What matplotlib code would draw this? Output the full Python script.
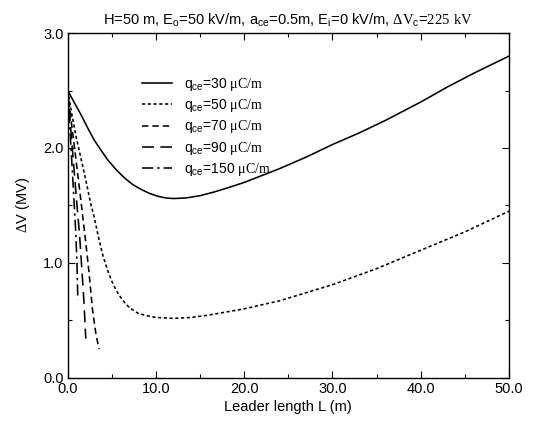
import numpy as np
import matplotlib
matplotlib.use('Agg')
import matplotlib.pyplot as plt

plt.rcParams['font.family'] = ['Liberation Sans', 'DejaVu Sans']
plt.rcParams['mathtext.fontset'] = 'custom'
plt.rcParams['mathtext.rm'] = 'Liberation Sans'
plt.rcParams['mathtext.tt'] = 'Liberation Serif'

# valores
q30_L = [0, 0.5, 1, 1.5, 2, 2.5, 3, 3.6, 4.5, 5.5, 6.5, 7.4, 8.3, 9.25, 10.2, 11.1, 12, 13.4, 15, 16.5,
         18, 20, 22, 24, 27, 30, 33, 36, 40, 43, 46, 50]
q30_V = [2.50, 2.43, 2.36, 2.29, 2.215, 2.14, 2.07, 2.00, 1.90, 1.81, 1.735, 1.68, 1.64, 1.605, 1.58, 1.565,
         1.56, 1.565, 1.585, 1.615, 1.65, 1.70, 1.76, 1.82, 1.92, 2.03, 2.13, 2.24, 2.40, 2.53, 2.65, 2.80]

q50_L = [0, 0.5, 1, 1.5, 2, 2.65, 3, 3.5, 4, 4.5, 5, 5.5, 6, 6.5, 7, 8, 9, 10, 12, 14, 16, 20, 24, 27,
         30, 35, 40, 45, 50]
q50_V = [2.50, 2.28, 2.08, 1.91, 1.74, 1.50, 1.40, 1.22, 1.06, 0.94, 0.84, 0.76, 0.70, 0.65, 0.61, 0.56,
         0.54, 0.525, 0.517, 0.525, 0.546, 0.60, 0.67, 0.74, 0.81, 0.95, 1.11, 1.27, 1.45]

q70_L = [0, 0.5, 1.0, 1.5, 2.0, 2.4, 2.8, 3.2, 3.55]
q70_V = [2.5, 2.17, 1.86, 1.54, 1.21, 0.93, 0.60, 0.38, 0.25]

q90_L = [0, 0.5, 1.0, 1.35, 1.6, 1.85, 2.05]
q90_V = [2.5, 2.02, 1.55, 1.24, 0.95, 0.65, 0.34]

q150_L = [0, 0.3, 0.6, 0.92, 1.05, 1.15]
q150_V = [2.5, 2.1, 1.7, 1.26, 1.0, 0.68]

cargas = ['30', '50', '70', '90', '150']
x_ticks = [0, 10, 20, 30, 40, 50]
y_ticks = [0, 1, 2, 3]

series = [(q30_L, q30_V), (q50_L, q50_V), (q70_L, q70_V), (q90_L, q90_V), (q150_L, q150_V)]
estilos = ['-', (0, (2, 1.6)), (0, (4, 2.5)), (0, (7.5, 4)), (0, (7, 2.5, 1.5, 2.5))]

fig = plt.figure(figsize=(5.33, 4.24), dpi=100)
ax = fig.add_axes([0.127, 0.109, 0.828, 0.813])

for (L, V), est, q in zip(series, estilos, cargas):
    ax.plot(L, V, color='black', lw=1.15, linestyle=est,
            label=r'q$_{\rm ce}$=' + q + r' $\mathtt{\mu C/m}$')

ax.set_xlim(0, 50)
ax.set_ylim(0, 3)
ax.set_xticks(x_ticks)
ax.set_xticklabels([f'{v:.1f}' for v in x_ticks])
ax.set_yticks(y_ticks)
ax.set_yticklabels([f'{v:.1f}' for v in y_ticks])
ax.set_xticks(np.arange(5, 50, 10), minor=True)
ax.set_yticks([0.5, 1.5, 2.5], minor=True)
ax.tick_params(which='both', direction='in', top=True, right=True, labelsize=10.5, width=0.8)
ax.tick_params(which='major', length=5, pad=3)
ax.tick_params(which='minor', length=3)
for s in ax.spines.values():
    s.set_linewidth(1.0)

ax.set_xlabel('Leader length L (m)', fontsize=10.5, labelpad=3)
ax.set_ylabel(r'$\mathtt{\Delta}$V (MV)', fontsize=10.5, labelpad=8)
ax.set_title(r'H=50 m, E$_{\rm o}$=50 kV/m, a$_{\rm ce}$=0.5m, E$_{\rm i}$=0 kV/m, '
             r'$\mathtt{\Delta V}_{\rm c}$=$\mathtt{225\ kV}$', fontsize=10.5, pad=6)

ax.legend(loc='upper left', bbox_to_anchor=(0.168, 0.875), frameon=False, fontsize=10,
          handlelength=2.2, handletextpad=0.8, labelspacing=0.3, borderpad=0, borderaxespad=0)

fig.savefig('out.png', dpi=100)
